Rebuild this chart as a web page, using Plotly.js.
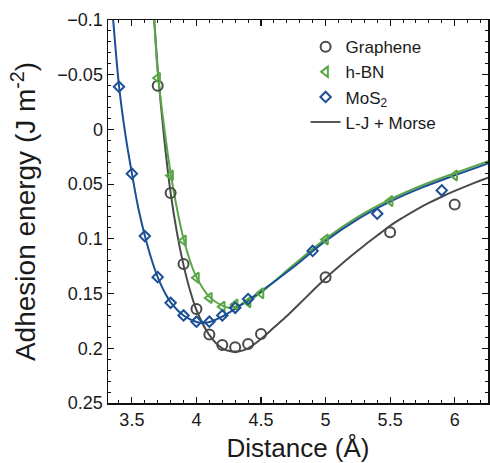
<!DOCTYPE html>
<html>
<head>
<meta charset="utf-8">
<script src="https://cdn.plot.ly/plotly-3.0.1.min.js"></script>
<style>html,body{margin:0;padding:0;background:#fff;}#chart{width:490px;height:463px;}</style>
</head>
<body>
<div id="chart"></div>
<script>
// Measured points
const grapheneX = [3.7, 3.8, 3.9, 4.0, 4.1, 4.2, 4.3, 4.4, 4.5, 5.0, 5.5, 6.0];
const grapheneY = [-0.04, 0.058, 0.123, 0.164, 0.1875, 0.197, 0.199, 0.196, 0.187, 0.135, 0.094, 0.0685];
const hbnX = [3.7, 3.8, 3.9, 4.0, 4.1, 4.2, 4.3, 4.4, 4.5, 5.0, 5.5, 6.0];
const hbnY = [-0.047, 0.042, 0.1015, 0.1356, 0.154, 0.162, 0.160, 0.158, 0.1497, 0.1005, 0.0655, 0.042];
const mos2X = [3.4, 3.5, 3.6, 3.7, 3.8, 3.9, 4.0, 4.1, 4.2, 4.3, 4.4, 4.9, 5.4, 5.9];
const mos2Y = [-0.039, 0.0404, 0.0975, 0.135, 0.1585, 0.170, 0.1757, 0.1757, 0.170, 0.163, 0.155, 0.111, 0.077, 0.0557];

// Fitted curves (L-J + Morse)
const fitGrX = [3.655, 3.673, 3.7, 3.75, 3.8, 3.85, 3.9, 3.95, 4.0, 4.1, 4.2, 4.3, 4.4, 4.5, 4.6, 4.7, 4.8, 4.9, 5.0, 5.1, 5.2, 5.3, 5.4, 5.5, 5.6, 5.7, 5.8, 5.9, 6.0, 6.1, 6.2, 6.26];
const fitGrY = [-0.125, -0.1, -0.055, 0.008, 0.058, 0.095, 0.124, 0.147, 0.165, 0.188, 0.2, 0.203, 0.2, 0.1915, 0.181, 0.1705, 0.159, 0.1475, 0.136, 0.1255, 0.1155, 0.106, 0.097, 0.088, 0.0805, 0.0735, 0.0672, 0.0615, 0.0562, 0.0513, 0.0467, 0.044];
const fitBnX = [3.657, 3.673, 3.7, 3.75, 3.8, 3.85, 3.9, 3.95, 4.0, 4.1, 4.2, 4.25, 4.3, 4.4, 4.5, 4.75, 5.0, 5.25, 5.5, 5.75, 6.0, 6.26];
const fitBnY = [-0.125, -0.1, -0.052, -0.002, 0.04, 0.073, 0.1, 0.12, 0.135, 0.153, 0.161, 0.163, 0.162, 0.157, 0.149, 0.124, 0.1, 0.08, 0.064, 0.051, 0.04, 0.029];
const fitMoX = [3.34, 3.355, 3.4, 3.45, 3.5, 3.55, 3.6, 3.65, 3.7, 3.75, 3.8, 3.9, 4.0, 4.05, 4.1, 4.2, 4.3, 4.4, 4.5, 4.75, 5.0, 5.25, 5.5, 5.75, 6.0, 6.26];
const fitMoY = [-0.12, -0.1, -0.04, 0.005, 0.04, 0.072, 0.097, 0.118, 0.135, 0.148, 0.158, 0.17, 0.176, 0.177, 0.176, 0.171, 0.164, 0.156, 0.148, 0.126, 0.102, 0.082, 0.066, 0.053, 0.042, 0.031];

const xTicks = [3.5, 4, 4.5, 5, 5.5, 6];
const yTicks = [-0.1, -0.05, 0, 0.05, 0.1, 0.15, 0.2, 0.25];

const cGray = '#4a4a4a', cGreen = '#5aa646', cBlue = '#1b4f96';
const FONT = 'Liberation Sans, Arial, sans-serif';

const traces = [
  {x: fitGrX, y: fitGrY, mode: 'lines', line: {color: cGray, width: 2, shape: 'spline', smoothing: 0.8}, showlegend: false, hoverinfo: 'skip'},
  {x: fitBnX, y: fitBnY, mode: 'lines', line: {color: cGreen, width: 2, shape: 'spline'}, showlegend: false, hoverinfo: 'skip'},
  {x: fitMoX, y: fitMoY, mode: 'lines', line: {color: cBlue, width: 2, shape: 'spline'}, showlegend: false, hoverinfo: 'skip'},
  {x: grapheneX, y: grapheneY, mode: 'markers', name: 'Graphene',
   marker: {symbol: 'circle-open', size: 10, color: cGray, line: {width: 2, color: cGray}}},
  {x: hbnX, y: hbnY, mode: 'markers', name: 'h-BN',
   marker: {symbol: 'triangle-left-open', size: 9, color: cGreen, line: {width: 2, color: cGreen}}},
  {x: mos2X, y: mos2Y, mode: 'markers', name: 'MoS<sub>2</sub>',
   marker: {symbol: 'diamond-open', size: 8, color: cBlue, line: {width: 2, color: cBlue}}},
  {x: [null], y: [null], mode: 'lines', name: 'L-J + Morse', line: {color: '#222', width: 1.5}}
];

const axisCommon = {
  showline: true, linecolor: '#111', linewidth: 1.5, mirror: 'allticks',
  ticks: 'inside', ticklen: 6, tickwidth: 1.2, tickcolor: '#111',
  showgrid: false, zeroline: false,
  tickfont: {family: FONT, size: 18, color: '#1a1a1a'}
};

const layout = {
  width: 490, height: 463,
  margin: {l: 108, r: 2, t: 20, b: 60},
  paper_bgcolor: '#fff', plot_bgcolor: '#fff',
  font: {family: FONT, color: '#1a1a1a'},
  xaxis: Object.assign({}, axisCommon, {
    range: [3.315, 6.258], tickvals: xTicks,
    minor: {dtick: 0.1, tick0: 3.5, ticks: 'inside', ticklen: 3, tickwidth: 1, tickcolor: '#111'},
    title: {text: 'Distance (Å)', font: {family: FONT, size: 26, color: '#1a1a1a'}, standoff: 9}
  }),
  yaxis: Object.assign({}, axisCommon, {
    range: [0.25, -0.1], tickvals: yTicks,
    minor: {dtick: 0.01, tick0: 0, ticks: 'inside', ticklen: 3, tickwidth: 1, tickcolor: '#111'},
    title: {text: 'Adhesion energy (J m<sup>-2</sup>)', font: {family: FONT, size: 28, color: '#1a1a1a'}, standoff: 13}
  }),
  legend: {
    x: 0.52, y: 0.976, xanchor: 'left', yanchor: 'top',
    bgcolor: 'rgba(0,0,0,0)', borderwidth: 0,
    font: {family: FONT, size: 17, color: '#1a1a1a'},
    itemwidth: 30, tracegroupgap: 0
  },
  showlegend: true
};

Plotly.newPlot('chart', traces, layout, {displayModeBar: false, staticPlot: true});
</script>
</body>
</html>
